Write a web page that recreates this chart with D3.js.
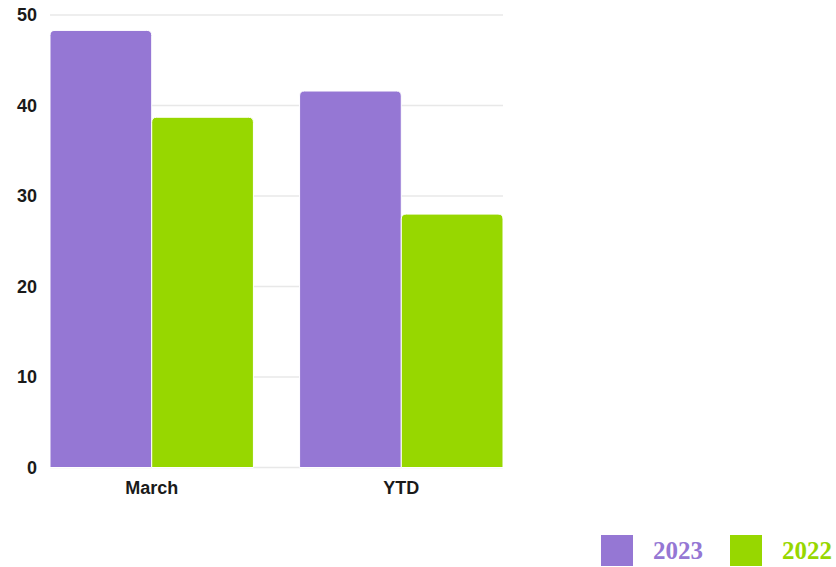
<!DOCTYPE html>
<html>
<head>
<meta charset="utf-8">
<script src="https://cdn.jsdelivr.net/npm/d3@7"></script>
<style>
    body { margin: 0; background: #fff; }
    .axis-label { font-family: "Liberation Sans", Arial, sans-serif; font-weight: bold; font-size: 18px; fill: #1a1a1a; }
    .legend-text { font-family: "Liberation Serif", "Times New Roman", serif; font-weight: bold; font-size: 25px; }
</style>
</head>
<body>
<div id="chart"></div>
<script>
// chart data
const categories = ['March', 'YTD'];
const seriesNames = ['2023', '2022'];
const values2023 = [48.3, 41.6];
const values2022 = [38.7, 28.0];
const yTicks = [0, 10, 20, 30, 40, 50];
const colors = {'2023': '#9577d4', '2022': '#97d700'};

const width = 836, height = 567;
const plot = {left: 50, right: 503, top: 15, bottom: 467.5};

const svg = d3.select('#chart').append('svg')
    .attr('width', width)
    .attr('height', height);

// scales
const x0 = d3.scaleBand()
    .domain(categories)
    .range([plot.left, plot.right])
    .paddingInner(0.185)
    .paddingOuter(0);

const x1 = d3.scaleBand()
    .domain(seriesNames)
    .range([0, x0.bandwidth()]);

const y = d3.scaleLinear()
    .domain([0, 50])
    .range([plot.bottom, plot.top]);

// gridlines
svg.append('g')
    .selectAll('line')
    .data(yTicks)
    .join('line')
    .attr('x1', plot.left)
    .attr('x2', plot.right)
    .attr('y1', d => y(d))
    .attr('y2', d => y(d))
    .attr('stroke', '#e8e8e8')
    .attr('stroke-width', 1.5);

// y axis labels
svg.append('g')
    .selectAll('text')
    .data(yTicks)
    .join('text')
    .attr('class', 'axis-label')
    .attr('x', 37)
    .attr('y', d => y(d))
    .attr('dy', '0.35em')
    .attr('text-anchor', 'end')
    .text(d => d);

// x axis labels
svg.append('g')
    .selectAll('text')
    .data(categories)
    .join('text')
    .attr('class', 'axis-label')
    .attr('x', d => x0(d) + x0.bandwidth() / 2)
    .attr('y', 494)
    .attr('text-anchor', 'middle')
    .text(d => d);

// bars with rounded top corners
const rows = [];
categories.forEach((c, i) => {
    rows.push({cat: c, series: '2023', value: values2023[i]});
    rows.push({cat: c, series: '2022', value: values2022[i]});
});

function topRounded(x, yTop, w, h, r) {
    return `M${x},${yTop + h} L${x},${yTop + r} Q${x},${yTop} ${x + r},${yTop} ` +
        `L${x + w - r},${yTop} Q${x + w},${yTop} ${x + w},${yTop + r} L${x + w},${yTop + h} Z`;
}

svg.append('g')
    .selectAll('path')
    .data(rows)
    .join('path')
    .attr('d', d => {
        const bx = x0(d.cat) + x1(d.series);
        const yt = y(d.value);
        return topRounded(bx, yt, x1.bandwidth(), y(0) - yt, 5);
    })
    .attr('fill', d => colors[d.series])
    .attr('stroke', '#fff')
    .attr('stroke-width', 1);

// legend
const legend = svg.append('g');
const legendX = [601, 730];
seriesNames.forEach((s, i) => {
    legend.append('rect')
        .attr('x', legendX[i])
        .attr('y', 535)
        .attr('width', 32)
        .attr('height', 31)
        .attr('fill', colors[s]);
    legend.append('text')
        .attr('class', 'legend-text')
        .attr('x', legendX[i] + 52)
        .attr('y', 559)
        .attr('fill', colors[s])
        .text(s);
});
</script>
</body>
</html>
